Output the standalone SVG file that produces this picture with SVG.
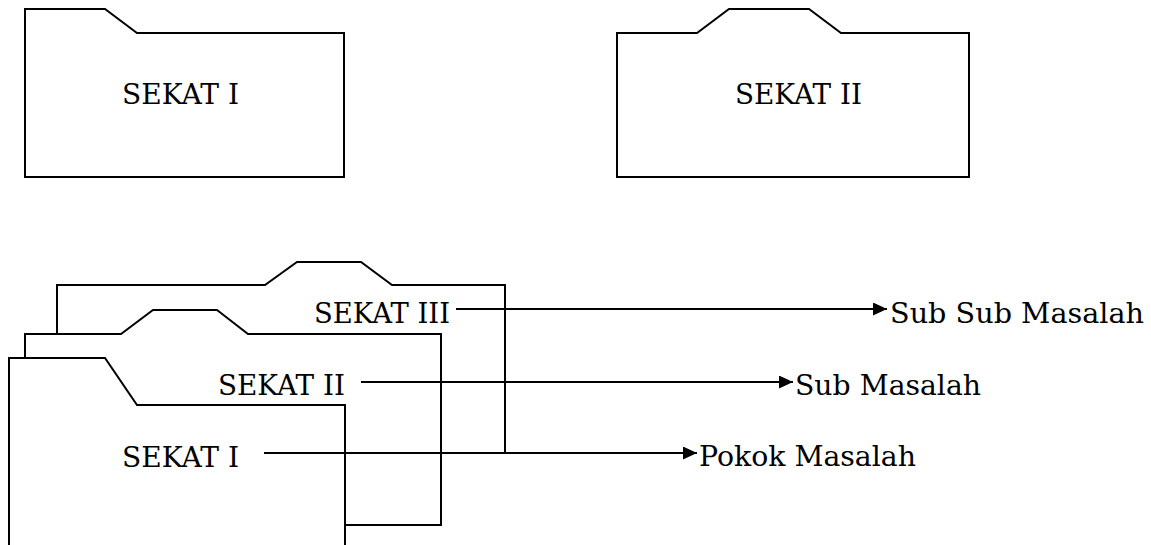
<svg xmlns="http://www.w3.org/2000/svg" width="1151" height="545" viewBox="0 0 1151 545">
<style>
.f{fill:#fff;stroke:#000;stroke-width:2;stroke-linejoin:miter}
.t{font-family:"DejaVu Serif","Liberation Serif",serif;font-size:28px;fill:#000}
.c{stroke:#000;stroke-width:2;fill:none}
</style>
<defs>
<marker id="ah" markerUnits="userSpaceOnUse" markerWidth="15" markerHeight="13" refX="14" refY="6.5" orient="auto">
<path d="M0,0 L14,6.5 L0,13 Z" fill="#000"/>
</marker>
</defs>
<rect width="1151" height="545" fill="#fff"/>
<g id="top-sekat-1">
<path class="f" d="M25,9 L105,9 L137,33 L344,33 L344,177 L25,177 Z"/>
<text class="t" x="122" y="104" textLength="117" lengthAdjust="spacingAndGlyphs">SEKAT I</text>
</g>
<g id="top-sekat-2">
<path class="f" d="M617,33 L697,33 L729,9 L809,9 L841,33 L969,33 L969,177 L617,177 Z"/>
<text class="t" x="735" y="104" textLength="127" lengthAdjust="spacingAndGlyphs">SEKAT II</text>
</g>
<g id="sekat-3">
<path class="f" d="M57,285 L265,285 L297,262 L361,262 L392,285 L505,285 L505,453 L57,453 Z"/>
<text class="t" x="314" y="323" textLength="136" lengthAdjust="spacingAndGlyphs">SEKAT III</text>
</g>
<g id="sekat-2">
<path class="f" d="M25,334 L121,334 L153,310 L217,310 L248,334 L441,334 L441,525 L25,525 Z"/>
<text class="t" x="218" y="395" textLength="127" lengthAdjust="spacingAndGlyphs">SEKAT II</text>
</g>
<g id="sekat-1">
<path class="f" d="M9,358 L105,358 L137,405 L345,405 L345,560 L9,560 Z"/>
<text class="t" x="122" y="467" textLength="117" lengthAdjust="spacingAndGlyphs">SEKAT I</text>
</g>
<g id="connectors">
<line class="c" x1="456" y1="309" x2="887" y2="309" marker-end="url(#ah)"/>
<line class="c" x1="361" y1="382" x2="793" y2="382" marker-end="url(#ah)"/>
<line class="c" x1="264" y1="453" x2="697" y2="453" marker-end="url(#ah)"/>
</g>
<g id="label-sub-sub">
<text class="t" x="890" y="323" textLength="254" lengthAdjust="spacingAndGlyphs">Sub Sub Masalah</text>
</g>
<g id="label-sub">
<text class="t" x="795" y="395" textLength="186" lengthAdjust="spacingAndGlyphs">Sub Masalah</text>
</g>
<g id="label-pokok">
<text class="t" x="699" y="466" textLength="217" lengthAdjust="spacingAndGlyphs">Pokok Masalah</text>
</g>
</svg>
